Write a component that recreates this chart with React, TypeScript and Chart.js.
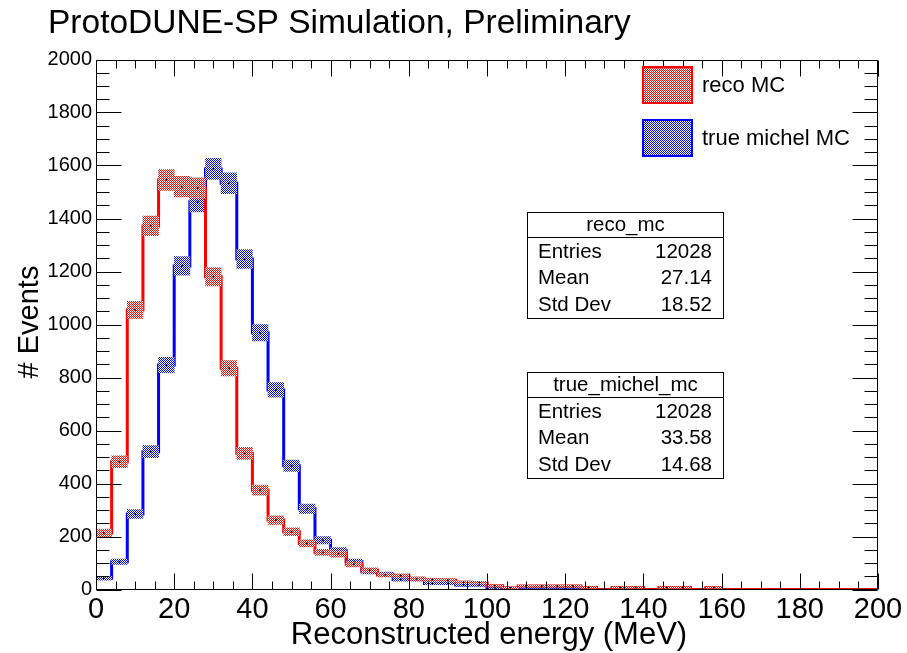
import React, { useEffect, useRef } from "react";
import { Chart, registerables } from "chart.js";

Chart.register(...registerables);

// ---- data ----
const BIN_WIDTH = 4;
const X_MIN = 0;
const X_MAX = 200;
const X_TICKS = [0, 20, 40, 60, 80, 100, 120, 140, 160, 180, 200];
const Y_TICKS = [0, 200, 400, 600, 800, 1000, 1200, 1400, 1600, 1800, 2000];
const X_MINOR_STEP = 5;
const Y_MINOR_STEP = 50;

// counts per 4 MeV bin, 0..200 MeV (50 bins)
const RECO_MC = [
  213, 482, 1055, 1372, 1545, 1520, 1515, 1180, 835, 514,
  375, 262, 218, 174, 140, 134, 95, 73, 55, 52,
  41, 36, 35, 27, 26, 14, 6, 13, 13, 13,
  13, 8, 0, 8, 8, 0, 8, 8, 0, 8,
  0, 0, 0, 0, 0, 0, 0, 0, 0, 0,
];
const TRUE_MICHEL_MC = [
  42, 105, 285, 520, 847, 1221, 1463, 1587, 1533, 1247,
  969, 753, 467, 305, 186, 146, 105, 67, 58, 38,
  38, 23, 23, 17, 17, 5, 5, 8, 8, 8,
  8, 3, 0, 3, 0, 0, 3, 3, 0, 3,
  0, 0, 0, 0, 0, 0, 0, 0, 0, 0,
];

const TITLE = "ProtoDUNE-SP Simulation, Preliminary";
const X_TITLE = "Reconstructed energy (MeV)";
const Y_TITLE = "# Events";
const LEGEND_LABELS = ["reco MC", "true michel MC"];
const STATS_RECO_TITLE = "reco_mc";
const STATS_RECO = [
  ["Entries", "12028"],
  ["Mean", "27.14"],
  ["Std Dev", "18.52"],
];
const STATS_TRUE_TITLE = "true_michel_mc";
const STATS_TRUE = [
  ["Entries", "12028"],
  ["Mean", "33.58"],
  ["Std Dev", "14.68"],
];

const RED = "rgb(255,0,0)";
const BLUE = "rgb(0,0,255)";
const FONT = '"Liberation Sans", Arial, Helvetica, sans-serif';

function stepPoints(values: number[]) {
  const pts = values.map((v, i) => ({ x: X_MIN + i * BIN_WIDTH, y: v }));
  pts.push({ x: X_MAX, y: values[values.length - 1] });
  return pts;
}
function bandPoints(values: number[]) {
  return values
    .map((v, i) => ({ x: X_MIN + (i + 0.5) * BIN_WIDTH, v }))
    .filter((p) => p.v > 0)
    .map((p) => ({ x: p.x, y: [p.v - Math.sqrt(p.v), p.v + Math.sqrt(p.v)] }));
}
function centerPoints(values: number[]) {
  return values
    .map((v, i) => ({ x: X_MIN + (i + 0.5) * BIN_WIDTH, y: v }))
    .filter((p) => p.y > 0);
}

function makePattern(ctx: CanvasRenderingContext2D, color: string) {
  const c = document.createElement("canvas");
  c.width = 2;
  c.height = 2;
  const g = c.getContext("2d")!;
  g.fillStyle = "#ffffff";
  g.fillRect(0, 0, 2, 2);
  g.fillStyle = color;
  g.fillRect(0, 0, 1, 1);
  g.fillRect(1, 1, 1, 1);
  return ctx.createPattern(c, "repeat")!;
}

export default function App() {
  const ref = useRef<HTMLCanvasElement | null>(null);

  useEffect(() => {
    const canvas = ref.current!;
    const ctx0 = canvas.getContext("2d")!;
    const redPat = makePattern(ctx0, RED);
    const bluePat = makePattern(ctx0, BLUE);

    const rootPlugin = {
      id: "rootStyle",
      afterDraw(chart: any) {
        const ctx: CanvasRenderingContext2D = chart.ctx;
        const a = chart.chartArea;
        const xs = chart.scales.x;
        const ys = chart.scales.y;
        ctx.save();
        // frame
        ctx.strokeStyle = "#000";
        ctx.lineWidth = 1;
        const L = Math.round(a.left) + 0.5;
        const R = Math.round(a.right) - 0.5;
        const T = Math.round(a.top) + 0.5;
        const B = Math.round(a.bottom) - 0.5;
        ctx.beginPath();
        ctx.rect(L, T, R - L, B - T);
        ctx.stroke();
        // ticks
        ctx.beginPath();
        for (let v = X_MIN; v <= X_MAX + 1e-9; v += X_MINOR_STEP) {
          const px = Math.round(xs.getPixelForValue(v)) + 0.5;
          const major = X_TICKS.includes(v);
          const len = major ? 16 : 8;
          ctx.moveTo(px, B);
          ctx.lineTo(px, B - len);
          ctx.moveTo(px, T);
          ctx.lineTo(px, T + len);
        }
        for (let v = Y_TICKS[0]; v <= Y_TICKS[Y_TICKS.length - 1] + 1e-9; v += Y_MINOR_STEP) {
          const py = Math.round(ys.getPixelForValue(v)) + 0.5;
          const major = Y_TICKS.includes(v);
          const len = major ? 25 : 13;
          ctx.moveTo(L, py);
          ctx.lineTo(L + len, py);
          ctx.moveTo(R, py);
          ctx.lineTo(R - len, py);
        }
        ctx.stroke();

        // titles
        ctx.fillStyle = "#000";
        ctx.textBaseline = "alphabetic";
        ctx.textAlign = "left";
        ctx.font = `33.5px ${FONT}`;
        ctx.fillText(TITLE, 48, 33);
        ctx.textAlign = "center";
        ctx.font = `31px ${FONT}`;
        ctx.fillText(X_TITLE, 489, 644);
        ctx.save();
        ctx.translate(38, 322);
        ctx.rotate(-Math.PI / 2);
        ctx.font = `29px ${FONT}`;
        ctx.fillText(Y_TITLE, 0, 0);
        ctx.restore();

        // legend
        const legend = [
          { y: 67, color: RED, pat: redPat, label: LEGEND_LABELS[0] },
          { y: 120, color: BLUE, pat: bluePat, label: LEGEND_LABELS[1] },
        ];
        for (const it of legend) {
          ctx.fillStyle = it.pat;
          ctx.fillRect(643, it.y, 49, 36);
          ctx.strokeStyle = it.color;
          ctx.lineWidth = 2;
          ctx.strokeRect(643, it.y, 49, 36);
          ctx.fillStyle = "#000";
          ctx.font = `22px ${FONT}`;
          ctx.textAlign = "left";
          ctx.textBaseline = "middle";
          ctx.fillText(it.label, 702, it.y + 19);
        }

        // stats boxes
        const boxes = [
          { top: 212, title: STATS_RECO_TITLE, rows: STATS_RECO },
          { top: 372, title: STATS_TRUE_TITLE, rows: STATS_TRUE },
        ];
        for (const b of boxes) {
          const bx = 527.5, bw = 196, bh = 106;
          ctx.fillStyle = "#fff";
          ctx.fillRect(bx, b.top + 0.5, bw, bh);
          ctx.strokeStyle = "#000";
          ctx.lineWidth = 1;
          ctx.strokeRect(bx, b.top + 0.5, bw, bh);
          ctx.beginPath();
          ctx.moveTo(bx, b.top + 25.5);
          ctx.lineTo(bx + bw, b.top + 25.5);
          ctx.stroke();
          ctx.fillStyle = "#000";
          ctx.font = `20.5px ${FONT}`;
          ctx.textBaseline = "middle";
          ctx.textAlign = "center";
          ctx.fillText(b.title, bx + bw / 2, b.top + 13);
          b.rows.forEach((r, i) => {
            const yy = b.top + 40 + i * 26.5;
            ctx.textAlign = "left";
            ctx.fillText(r[0], 538, yy);
            ctx.textAlign = "right";
            ctx.fillText(r[1], 712, yy);
          });
        }
        ctx.restore();
      },
    };

    const chart = new Chart(canvas, {
      type: "bar",
      data: {
        datasets: [
          {
            type: "line",
            data: stepPoints(TRUE_MICHEL_MC),
            stepped: true,
            borderColor: BLUE,
            borderWidth: 3,
            pointRadius: 0,
            fill: false,
            order: 5,
          } as any,
          {
            type: "bar",
            data: bandPoints(TRUE_MICHEL_MC),
            backgroundColor: bluePat,
            borderWidth: 0,
            grouped: false,
            barPercentage: 1,
            categoryPercentage: 1,
            order: 4,
          } as any,
          {
            type: "line",
            data: centerPoints(TRUE_MICHEL_MC),
            showLine: false,
            pointRadius: 1,
            pointBorderWidth: 0,
            pointBackgroundColor: "#000",
            order: 3,
          } as any,
          {
            type: "line",
            data: stepPoints(RECO_MC),
            stepped: true,
            borderColor: RED,
            borderWidth: 3,
            pointRadius: 0,
            fill: false,
            order: 2,
          } as any,
          {
            type: "bar",
            data: bandPoints(RECO_MC),
            backgroundColor: redPat,
            borderWidth: 0,
            grouped: false,
            barPercentage: 1,
            categoryPercentage: 1,
            order: 1,
          } as any,
          {
            type: "line",
            data: centerPoints(RECO_MC),
            showLine: false,
            pointRadius: 1,
            pointBorderWidth: 0,
            pointBackgroundColor: "#000",
            order: 0,
          } as any,
        ],
      },
      options: {
        responsive: false,
        animation: false,
        events: [],
        layout: { padding: { top: 59.5, right: 29, left: 0, bottom: 0 } },
        plugins: {
          legend: { display: false },
          tooltip: { enabled: false },
          title: { display: false },
        },
        scales: {
          x: {
            type: "linear",
            min: X_MIN,
            max: X_MAX,
            offset: false,
            grid: { display: false, drawTicks: false },
            border: { display: false },
            ticks: {
              color: "#000",
              font: { size: 29, family: FONT },
              padding: 3,
              maxRotation: 0,
              autoSkip: false,
              callback: (v: any) => String(v),
            },
            afterBuildTicks: (s: any) => {
              s.ticks = X_TICKS.map((v) => ({ value: v }));
            },
            afterFit: (s: any) => {
              s.height = 63.5;
            },
          },
          y: {
            type: "linear",
            min: Y_TICKS[0],
            max: Y_TICKS[Y_TICKS.length - 1],
            grid: { display: false, drawTicks: false },
            border: { display: false },
            ticks: {
              color: "#000",
              font: { size: 20, family: FONT },
              padding: 4,
              autoSkip: false,
              callback: (v: any) => String(v),
            },
            afterBuildTicks: (s: any) => {
              s.ticks = Y_TICKS.map((v) => ({ value: v }));
            },
            afterFit: (s: any) => {
              s.width = 96;
            },
          },
        },
      } as any,
      plugins: [rootPlugin],
    });
    return () => chart.destroy();
  }, []);

  return (
    <div style={{ position: "absolute", left: 0, top: 0, width: 907, height: 653, background: "#fff" }}>
      <canvas ref={ref} width={907} height={653} style={{ display: "block", width: 907, height: 653 }} />
    </div>
  );
}
